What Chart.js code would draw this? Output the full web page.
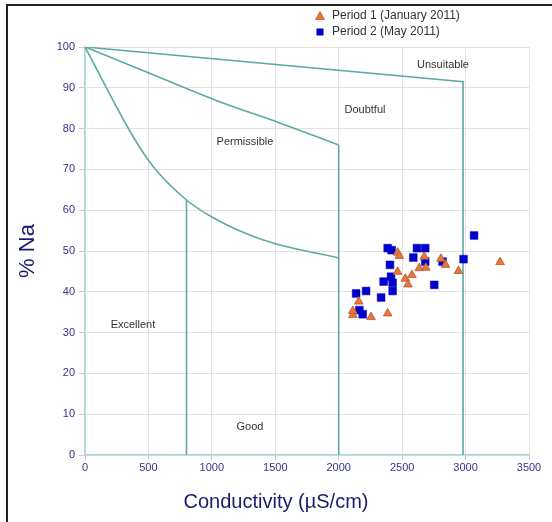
<!DOCTYPE html>
<html>
<head>
<meta charset="utf-8">
<script src="https://cdn.jsdelivr.net/npm/chart.js@4.4.1/dist/chart.umd.min.js"></script>
<style>
  html, body { margin: 0; padding: 0; background: #ffffff; }
  #wrap { position: relative; width: 552px; height: 522px; }
</style>
</head>
<body>
<div id="wrap"><canvas id="c" width="552" height="522"></canvas></div>
<script>
// ---- Data ----
const p1Cond = [2111, 2111, 2158, 2255, 2386, 2464, 2478, 2464, 2525, 2546, 2577, 2635, 2687, 2674, 2806, 2842, 2944, 3272];
const p1Na   = [34.3, 35.3, 37.6, 33.8, 34.7, 49.6, 48.8, 44.9, 43.2, 41.8, 44.1, 45.8, 45.9, 48.6, 48.1, 46.6, 45.1, 47.3];
const p2Cond = [2137, 2163, 2189, 2216, 2334, 2354, 2386, 2417, 2404, 2412, 2425, 2425, 2588, 2617, 2682, 2682, 2753, 2818, 2984, 3067];
const p2Na   = [39.6, 35.5, 34.5, 40.2, 38.6, 42.5, 50.7, 50.2, 46.6, 43.7, 42.2, 40.2, 48.4, 50.7, 50.7, 47.4, 41.7, 47.4, 48.0, 53.8];

// Wilcox diagram boundaries
const unsuitCond = [0, 2980, 2980];
const unsuitNa   = [100, 91.5, 0];
const doubtCond  = [0, 485, 1062, 1534, 2000];
const doubtNa    = [100, 93.9, 86.6, 81.4, 76];
const permCond   = [0, 380, 537, 800, 997, 1298, 1508, 2000];
const permNa     = [100, 78, 70.7, 62.5, 58.4, 53.9, 51.7, 48.3];
const vLine2000Cond = [2000, 2000];
const vLine2000Na   = [76, 0];
const vLine800Cond  = [800, 800];
const vLine800Na    = [62.5, 0];

const xTicks = [0, 500, 1000, 1500, 2000, 2500, 3000, 3500];
const yTicks = [0, 10, 20, 30, 40, 50, 60, 70, 80, 90, 100];

const regionNames = ['Excellent', 'Good', 'Permissible', 'Doubtful', 'Unsuitable'];
const regionCond  = [378, 1300, 1261, 2207, 2822];
const regionNa    = [31.8, 6.9, 76.7, 84.5, 95.5];

const seriesNames = ['Period 1 (January 2011)', 'Period 2 (May 2011)'];

const zip = (xs, ys) => xs.map((x, i) => ({ x: x, y: ys[i] }));

const teal = '#5ea9a6';
const orange = '#e8773e';
const blue = '#0000cc';

function lineDs(xs, ys, tension) {
  return {
    type: 'scatter', showLine: true, data: zip(xs, ys),
    borderColor: teal, borderWidth: 1.6, pointRadius: 0, pointHoverRadius: 0,
    fill: false, tension: tension ? 0.4 : 0,
    cubicInterpolationMode: tension ? 'monotone' : 'default', order: 5
  };
}

const labelsPlugin = {
  id: 'labelsPlugin',
  afterDatasetsDraw(chart) {
    const ctx = chart.ctx;
    const xs = chart.scales.x, ys = chart.scales.y;
    ctx.save();
    ctx.font = '11px "Liberation Sans", Arial, sans-serif';
    ctx.fillStyle = '#333333';
    ctx.textAlign = 'center';
    ctx.textBaseline = 'middle';
    regionNames.forEach((n, i) => {
      ctx.fillText(n, xs.getPixelForValue(regionCond[i]), ys.getPixelForValue(regionNa[i]));
    });
    // x-axis title
    ctx.font = '20px "Liberation Sans", Arial, sans-serif';
    ctx.fillStyle = '#1c1c6e';
    ctx.fillText('Conductivity (\u00b5S/cm)', 276, 502);
    // legend
    ctx.font = '12px "Liberation Sans", Arial, sans-serif';
    ctx.textAlign = 'left';
    const lx = 320, ly = [16, 32];
    ctx.beginPath();
    ctx.moveTo(lx, ly[0] - 4.5);
    ctx.lineTo(lx + 4.5, ly[0] + 3.5);
    ctx.lineTo(lx - 4.5, ly[0] + 3.5);
    ctx.closePath();
    ctx.fillStyle = orange; ctx.fill();
    ctx.strokeStyle = '#b8582c'; ctx.lineWidth = 0.8; ctx.stroke();
    ctx.fillStyle = blue;
    ctx.fillRect(lx - 3.5, ly[1] - 3.5, 7, 7);
    ctx.fillStyle = '#333333';
    ctx.fillText(seriesNames[0], 332, ly[0]);
    ctx.fillText(seriesNames[1], 332, ly[1]);
    // frame
    ctx.strokeStyle = '#222222';
    ctx.lineWidth = 2;
    ctx.beginPath();
    ctx.moveTo(7, 530);
    ctx.lineTo(7, 5);
    ctx.lineTo(560, 5);
    ctx.stroke();
    ctx.restore();
  }
};

new Chart(document.getElementById('c'), {
  type: 'scatter',
  data: {
    datasets: [
      {
        label: seriesNames[0], data: zip(p1Cond, p1Na),
        pointStyle: 'triangle', pointRadius: 5, pointHoverRadius: 5,
        backgroundColor: orange, borderColor: '#b8582c', borderWidth: 0.8, order: 1
      },
      {
        label: seriesNames[1], data: zip(p2Cond, p2Na),
        pointStyle: 'rect', pointRadius: 5.5, pointHoverRadius: 5.5,
        backgroundColor: blue, borderColor: blue, borderWidth: 0.5, order: 2
      },
      lineDs(unsuitCond, unsuitNa, false),
      lineDs(doubtCond, doubtNa, true),
      lineDs(permCond, permNa, true),
      lineDs(vLine2000Cond, vLine2000Na, false),
      lineDs(vLine800Cond, vLine800Na, false)
    ]
  },
  options: {
    responsive: false,
    animation: false,
    layout: { padding: { left: 5, right: 23, top: 47, bottom: 0 } },
    plugins: { legend: { display: false }, tooltip: { enabled: false } },
    scales: {
      x: {
        type: 'linear', min: 0, max: 3500,
        afterBuildTicks(s) { s.ticks = xTicks.map(v => ({ value: v })); },
        afterFit(s) { s.height = 67; },
        ticks: { color: '#33338a', font: { size: 11, family: '"Liberation Sans", Arial' }, padding: 1, maxRotation: 0,
                 callback: v => String(v) },
        grid: { color: '#e2e2e2', tickColor: '#f0bcbc', tickLength: 5, lineWidth: 1 },
        border: { color: '#a4dada', width: 1.5 }
      },
      y: {
        type: 'linear', min: 0, max: 100,
        afterBuildTicks(s) { s.ticks = yTicks.map(v => ({ value: v })); },
        afterFit(s) { s.width = 80; },
        ticks: { color: '#33338a', font: { size: 11, family: '"Liberation Sans", Arial' }, padding: 4,
                 callback: v => String(v) },
        grid: { color: '#e6e0e0', tickColor: '#f0bcbc', tickLength: 6, lineWidth: 1 },
        border: { color: '#a4dada', width: 1.5 },
        title: { display: true, text: '% Na', color: '#1c1c6e', font: { size: 22, family: '"Liberation Sans", Arial' }, padding: 10 }
      }
    }
  },
  plugins: [labelsPlugin]
});
</script>
</body>
</html>
